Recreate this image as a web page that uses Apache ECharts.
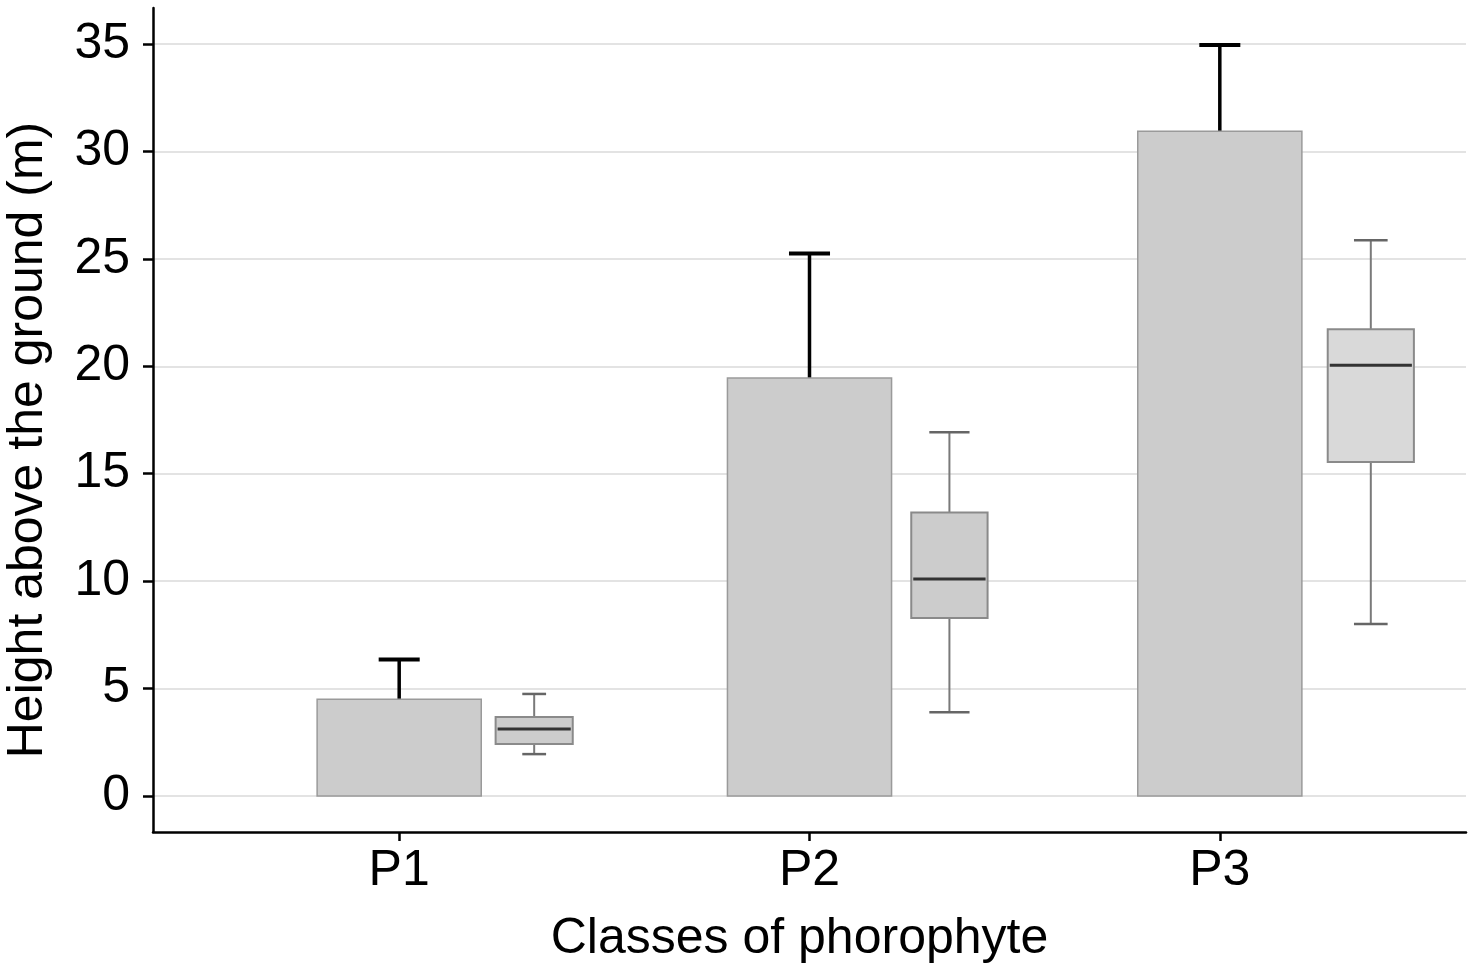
<!DOCTYPE html>
<html>
<head>
<meta charset="utf-8">
<title>Height above the ground</title>
<script src="https://cdn.jsdelivr.net/npm/echarts@6/dist/echarts.min.js"></script>
<style>
  html, body { margin: 0; padding: 0; background: #fff; }
  #main { width: 1477px; height: 966px; }
</style>
</head>
<body>
<div id="main"></div>
<script>
// data
var categories = ['P1', 'P2', 'P3'];
var barMean = [4.5, 19.45, 30.94];
var barErrTop = [6.35, 25.25, 34.95];
var boxMin = [1.95, 3.9, 8.0];
var boxQ1 = [2.42, 8.28, 15.54];
var boxMedian = [3.12, 10.1, 20.05];
var boxQ3 = [3.68, 13.2, 21.72];
var boxMax = [4.75, 16.93, 25.87];
var yTicks = [0, 5, 10, 15, 20, 25, 30, 35];

// layout (x units, one unit = one class)
var barHalf = 0.2;
var barCapHalf = 0.05;
var boxShift = [0.329, 0.341, 0.368];
var boxHalf = [0.094, 0.093, 0.105];
var boxCapHalf = [0.029, 0.049, 0.041];
var boxFill = ['#cccccc', '#cccccc', '#d9d9d9'];

var FONT = '"Liberation Sans", Arial, sans-serif';

var barData = [], boxData = [];
for (var i = 0; i < categories.length; i++) {
  barData.push([i + 1, barMean[i], barErrTop[i]]);
  boxData.push([i + 1, boxMin[i], boxQ1[i], boxMedian[i], boxQ3[i], boxMax[i]]);
}

function renderBar(params, api) {
  var x = api.value(0);
  var p0 = api.coord([x - barHalf, 0]);
  var p1 = api.coord([x + barHalf, api.value(1)]);
  var top = api.coord([x, api.value(2)]);
  var capL = api.coord([x - barCapHalf, api.value(2)]);
  var capR = api.coord([x + barCapHalf, api.value(2)]);
  return {
    type: 'group',
    children: [
      { type: 'line', shape: { x1: top[0], y1: p1[1], x2: top[0], y2: top[1] },
        style: { stroke: '#000', lineWidth: 3.5 } },
      { type: 'line', shape: { x1: capL[0], y1: capL[1], x2: capR[0], y2: capR[1] },
        style: { stroke: '#000', lineWidth: 4 } },
      { type: 'rect', shape: { x: p0[0], y: p1[1], width: p1[0] - p0[0], height: p0[1] - p1[1] },
        style: { fill: '#cccccc', stroke: '#9a9a9a', lineWidth: 1.5 } }
    ]
  };
}

function renderBox(params, api) {
  var i = params.dataIndex;
  var x = api.value(0) + boxShift[i];
  var c = api.coord([x, 0])[0];
  var l = api.coord([x - boxHalf[i], 0])[0];
  var r = api.coord([x + boxHalf[i], 0])[0];
  var cl = api.coord([x - boxCapHalf[i], 0])[0];
  var cr = api.coord([x + boxCapHalf[i], 0])[0];
  var yMin = api.coord([x, api.value(1)])[1];
  var yQ1 = api.coord([x, api.value(2)])[1];
  var yMed = api.coord([x, api.value(3)])[1];
  var yQ3 = api.coord([x, api.value(4)])[1];
  var yMax = api.coord([x, api.value(5)])[1];
  var ws = { stroke: '#7a7a7a', lineWidth: 2 };
  return {
    type: 'group',
    children: [
      { type: 'line', shape: { x1: c, y1: yMax, x2: c, y2: yQ3 }, style: ws },
      { type: 'line', shape: { x1: c, y1: yQ1, x2: c, y2: yMin }, style: ws },
      { type: 'line', shape: { x1: cl, y1: yMax, x2: cr, y2: yMax }, style: { stroke: '#666', lineWidth: 2.5 } },
      { type: 'line', shape: { x1: cl, y1: yMin, x2: cr, y2: yMin }, style: { stroke: '#666', lineWidth: 2.5 } },
      { type: 'rect', shape: { x: l, y: yQ3, width: r - l, height: yQ1 - yQ3 },
        style: { fill: boxFill[i], stroke: '#8a8a8a', lineWidth: 2 } },
      { type: 'line', shape: { x1: l + 2, y1: yMed, x2: r - 2, y2: yMed },
        style: { stroke: '#333', lineWidth: 3 } }
    ]
  };
}

var chart = echarts.init(document.getElementById('main'));
chart.setOption({
  animation: false,
  backgroundColor: '#fff',
  grid: { left: 153, right: 11, top: 8, bottom: 134, outerBoundsMode: 'none', containLabel: false },
  xAxis: {
    type: 'value',
    min: 0.4,
    max: 3.6,
    name: 'Classes of phorophyte',
    nameLocation: 'middle',
    nameGap: 82,
    nameMoveOverlap: false,
    nameTextStyle: { fontFamily: FONT, fontSize: 50, color: '#000', padding: [0, 20, 0, 0] },
    axisLine: { show: true, onZero: false, lineStyle: { color: '#000', width: 2.5 } },
    axisTick: { show: true, length: 9, customValues: [1, 2, 3], lineStyle: { color: '#000', width: 2.5 } },
    axisLabel: {
      customValues: [1, 2, 3],
      margin: 14,
      fontFamily: FONT, fontSize: 50, color: '#000',
      formatter: function (v) { return categories[Math.round(v) - 1]; }
    },
    splitLine: { show: false }
  },
  yAxis: {
    type: 'value',
    min: -1.675,
    max: 36.675,
    name: 'Height above the ground (m)',
    nameLocation: 'middle',
    nameGap: 100,
    nameMoveOverlap: false,
    nameTextStyle: { fontFamily: FONT, fontSize: 50, color: '#000', padding: [0, 40, 0, 0] },
    axisLine: { show: true, onZero: false, lineStyle: { color: '#000', width: 2.5 } },
    axisTick: { show: true, length: 10, customValues: yTicks, lineStyle: { color: '#000', width: 2.5 } },
    axisLabel: {
      customValues: yTicks,
      margin: 23,
      fontFamily: FONT, fontSize: 50, color: '#000'
    },
    splitLine: { show: true, lineStyle: { color: '#e3e3e3', width: 2 } }
  },
  series: [
    { type: 'custom', renderItem: renderBar, data: barData, clip: false },
    { type: 'custom', renderItem: renderBox, data: boxData, clip: false }
  ]
});
</script>
</body>
</html>
